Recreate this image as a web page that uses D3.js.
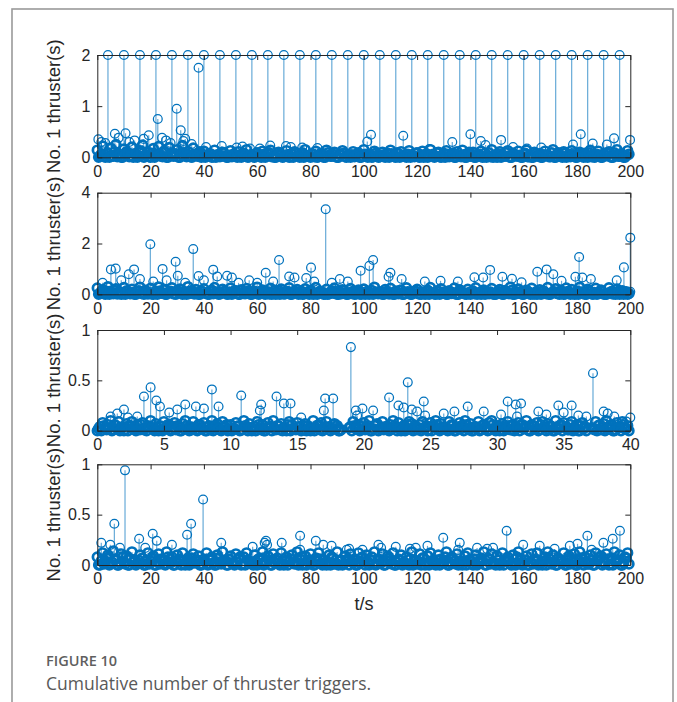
<!DOCTYPE html>
<html>
<head>
<meta charset="utf-8">
<script src="https://cdn.jsdelivr.net/npm/d3@7"></script>
<style>
  html, body { margin: 0; padding: 0; background: #fff; }
  svg { display: block; }
</style>
</head>
<body>
<svg id="chart" width="677" height="702"></svg>
<script>
// ---------------------------------------------------------------
// Tick labels
// ---------------------------------------------------------------
const xTicksLong = [0, 20, 40, 60, 80, 100, 120, 140, 160, 180, 200];
const xTicksShort = [0, 5, 10, 15, 20, 25, 30, 35, 40];
const yTicks1 = [0, 1, 2];
const yTicks2 = [0, 2, 4];
const yTicks3 = [0, 0.5, 1];
const yTicks4 = [0, 0.5, 1];

// ---------------------------------------------------------------
// Low-level trigger durations (hundredths of a second).
// "a" arrays are sampled on whole steps, "b" arrays half a step later.
// ---------------------------------------------------------------
const band1a = [
  14,3,22,0,9,18,2,25,6,0,16,11,1,20,7,0,13,24,4,10,
  0,17,5,21,2,12,0,19,8,3,15,0,23,6,11,1,18,4,9,0,
  12,2,7,0,14,5,1,10,3,0,13,6,2,11,0,8,15,1,4,0,
  9,3,12,0,6,14,2,0,10,5,1,13,0,7,11,3,0,9,15,2,
  0,6,12,1,8,0,14,4,2,10,0,7,13,1,5,0,11,3,9,0,
  15,2,6,0,12,4,1,10,0,8,14,3,0,7,11,2,0,13,5,1,
  9,0,12,4,0,15,6,2,10,0,8,13,1,5,0,11,3,14,0,7,
  2,10,0,6,12,1,0,9,15,3,0,11,5,2,13,0,8,4,12,0,
  6,14,1,0,10,3,7,0,12,5,1,15,0,9,2,11,0,6,13,4,
  0,10,2,8,0,14,5,1,12,0,7,3,11,0,9,15,2,6,0,13
];
const band1b = [
  0,5,2,8,0,3,11,1,6,0,4,9,2,0,7,3,12,0,5,1,
  8,0,3,6,1,10,0,4,2,7,0,5,9,1,3,0,6,2,11,4,
  0,3,7,1,0,5,2,9,0,4,1,6,0,3,8,2,0,5,1,7,
  3,0,6,2,9,1,0,4,7,0,2,5,1,0,8,3,6,0,2,4,
  7,1,0,5,3,0,9,2,6,1,0,4,8,0,3,5,1,7,0,2,
  6,0,4,1,8,0,3,5,2,0,7,1,9,0,4,2,6,0,3,8,
  1,5,0,7,2,4,0,9,1,3,0,6,2,8,0,4,1,5,0,10,
  3,0,6,2,0,8,4,1,0,5,7,0,3,9,1,0,6,2,4,0,
  8,1,3,0,7,2,0,5,4,1,9,0,6,2,0,8,3,1,5,0,
  4,7,0,2,9,1,0,6,3,0,5,8,1,0,4,2,7,0,3,6
];
const band2a = [
  25,5,18,0,30,12,2,22,8,0,27,14,3,20,0,10,28,6,16,1,
  24,0,12,29,4,18,0,9,26,2,15,21,0,7,30,11,3,19,0,13,
  22,4,0,16,27,8,1,20,11,0,25,6,14,0,18,3,23,9,0,12,
  28,2,17,0,10,24,5,0,15,21,1,8,26,0,13,19,3,0,22,7,
  16,0,27,5,11,0,20,2,14,25,0,9,18,4,0,23,12,1,17,0,
  21,6,0,15,28,3,10,0,19,7,24,0,13,2,17,0,26,8,0,12,
  20,1,9,0,16,27,4,0,11,22,6,0,14,3,25,0,18,9,1,20,
  0,13,26,5,0,17,10,2,23,0,8,19,0,15,4,28,0,11,21,3,
  0,16,7,24,1,0,18,12,5,27,0,9,22,2,15,0,25,6,19,0,
  13,28,3,0,20,10,0,24,6,17,1,0,26,11,4,21,0,14,8,0
];
const band2b = [
  0,8,3,12,0,5,15,1,9,4,0,11,2,7,0,14,3,0,10,6,
  1,9,0,13,4,0,7,12,2,0,8,5,11,0,3,15,1,6,0,10,
  4,0,13,2,8,0,5,11,1,9,0,14,3,0,7,2,12,0,6,4,
  0,10,3,8,1,0,15,5,0,9,2,11,0,4,7,0,13,1,6,0,
  9,3,0,12,5,1,0,8,4,11,0,2,14,0,6,3,0,10,1,7,
  0,13,4,0,9,2,6,0,11,1,5,0,8,15,0,3,10,0,4,12,
  2,0,7,11,0,5,1,14,0,8,3,0,9,6,1,0,12,4,0,7,
  10,2,0,6,13,0,4,9,1,0,11,5,0,8,2,15,0,3,7,0,
  5,12,0,1,9,4,0,13,2,0,6,10,3,0,8,1,11,0,5,2,
  0,9,6,0,14,2,7,0,4,11,0,3,8,1,0,12,5,0,10,3
];
const band3a = [
  0,4,8,2,6,10,1,5,9,3,0,7,4,9,2,6,1,8,3,5,
  10,2,7,0,4,9,3,6,1,8,5,0,7,10,2,4,9,1,6,3,
  8,0,5,10,3,7,1,9,4,0,6,2,8,5,1,10,3,7,0,4,
  9,2,6,0,8,4,10,1,5,7,3,0,9,6,2,8,4,1,7,5,
  0,10,3,6,8,1,9,4,2,7,5,0,null,null,null,4,9,2,6,1,
  8,3,10,0,5,7,2,9,4,1,6,10,3,8,0,5,2,9,7,4,
  1,6,9,3,0,8,5,10,2,7,4,1,9,6,0,3,8,5,10,2,
  7,0,4,9,1,6,3,8,10,2,5,0,7,4,9,1,6,3,8,5,
  2,10,0,6,4,8,1,9,3,7,5,0,10,2,6,8,4,1,9,3,
  6,0,8,4,null,null,2,9,5,1,7,10,3,6,0,8,4,9,2,5
];
const band3b = [
  2,0,5,1,3,0,6,2,0,4,1,0,5,3,0,2,6,1,0,4,
  3,0,1,5,0,2,6,0,3,1,4,0,2,5,0,1,3,0,6,2,
  0,4,1,0,5,2,0,3,6,1,0,2,4,0,1,5,0,3,2,0,
  6,1,0,3,4,0,2,5,1,0,3,6,0,2,1,4,0,5,0,3,
  2,0,5,1,0,4,3,0,6,2,0,1,null,null,3,0,5,2,0,4,
  1,5,0,2,6,0,3,1,4,0,2,5,0,3,1,0,6,2,0,4,
  3,0,2,5,1,0,4,6,0,2,3,0,1,5,0,4,2,0,6,1,
  0,4,3,0,5,2,0,1,6,0,3,4,0,2,5,1,0,3,0,6,
  4,1,0,5,2,0,6,3,0,1,4,0,2,5,0,3,1,6,0,2,
  0,5,2,0,null,3,1,0,6,4,0,2,5,0,1,3,0,6,2,0
];
const band4a = [
  8,0,12,4,10,1,14,6,0,11,3,9,0,13,5,2,10,7,0,12,
  4,9,0,11,6,1,13,3,8,0,10,5,12,0,7,2,11,4,9,0,
  6,12,1,8,0,10,3,13,5,0,9,2,11,6,0,8,12,4,1,10,
  0,7,13,3,9,0,11,5,2,12,0,8,4,10,1,13,6,0,9,3,
  11,0,7,12,2,5,0,10,8,1,13,4,0,9,6,11,2,0,12,7,
  3,10,0,8,13,1,5,11,0,9,4,12,0,6,10,2,8,0,13,5,
  1,11,7,0,9,12,3,0,10,6,2,13,0,8,4,11,1,0,9,12,
  5,0,10,3,7,13,0,6,11,2,9,0,12,4,8,1,10,0,13,6,
  2,9,0,11,5,12,1,0,8,13,3,10,0,7,4,12,0,9,6,11,
  0,13,3,8,1,10,0,12,5,9,2,11,0,7,13,4,10,0,8,12
];
const band4b = [
  0,4,1,7,0,3,5,0,2,8,1,0,6,3,0,5,2,0,4,1,
  7,0,3,1,5,0,8,2,0,4,6,0,1,3,0,7,2,5,0,1,
  3,0,5,2,0,7,1,4,0,6,2,0,3,8,1,0,5,2,0,4,
  6,1,0,3,5,0,2,7,0,1,4,0,6,2,3,0,8,1,0,5,
  2,0,4,6,0,1,3,0,7,2,0,5,1,4,0,3,6,0,2,8,
  0,3,5,1,0,6,2,0,4,7,1,0,3,5,0,2,1,6,0,4,
  3,0,7,2,0,4,1,5,0,3,8,0,2,6,1,0,4,3,0,5,
  1,6,0,2,4,0,7,1,3,0,5,2,0,6,4,0,1,8,2,0,
  5,0,3,1,6,0,2,4,0,7,1,3,0,5,2,0,6,1,4,0,
  2,7,0,3,1,5,0,4,8,0,2,6,1,0,3,5,0,2,7,1
];

// ---------------------------------------------------------------
// Larger trigger events: [time (s), duration (s)]
// ---------------------------------------------------------------
const peaks1Saturated = [
  [4,2],[10,2],[16,2],[22,2],[28,2],[34,2],[40,2],[46,2],[52,2],[58,2],[64,2],
  [70,2],[76,2],[82,2],[88,2],[94,2],[100,2],[106,2],[112,2],[118,2],[124,2],
  [130,2],[136,2],[142,2],[148,2],[154,2],[160,2],[166,2],[172,2],[178,2],
  [184,2],[190,2],[196,2]
];
const peaks1 = [
  [38,1.75],[29.8,0.95],[22.7,0.75],[31.3,0.53],[0.4,0.35],[6.6,0.46],[10.6,0.47],
  [19.3,0.43],[17.4,0.36],[24.3,0.38],[25.8,0.33],[32.3,0.32],[35.4,0.26],[1.5,0.3],
  [3,0.28],[8,0.38],[12,0.3],[14,0.33],[27.5,0.28],[33,0.36],[40.8,0.2],[46.7,0.22],
  [52.3,0.19],[54.5,0.21],[57.3,0.17],[61,0.17],[64.9,0.23],[70.8,0.22],[72.6,0.2],
  [76.9,0.19],[82.6,0.18],[86,0.14],[102.7,0.44],[101.3,0.31],[114.8,0.42],
  [124.6,0.16],[133.2,0.3],[140,0.45],[143.9,0.32],[145.7,0.24],[151.5,0.34],
  [156,0.2],[161.2,0.17],[166.6,0.19],[178.5,0.25],[181.4,0.45],[185.9,0.27],
  [191.2,0.25],[193.9,0.37],[199.9,0.34]
];
const peaks2 = [
  [85.7,3.35],[19.9,1.97],[36,1.78],[29.4,1.28],[68.2,1.35],[80.2,1.05],[5.1,0.98],
  [6.9,1.01],[13.8,0.98],[24.5,1.0],[11.8,0.79],[30.2,0.73],[38,0.72],[43.5,0.97],
  [45,0.7],[48.7,0.73],[50.5,0.66],[63.2,0.85],[72,0.7],[74,0.66],[78.4,0.64],
  [81.4,0.5],[91,0.6],[98.8,0.93],[103.5,1.35],[102.1,1.12],[110,0.85],[109.3,0.69],
  [114.2,0.6],[122.9,0.5],[128.8,0.53],[135.3,0.5],[141.5,0.67],[144.8,0.66],
  [147.4,0.96],[152,0.69],[155.6,0.61],[159.2,0.47],[165.1,0.89],[168.6,0.98],
  [171.1,0.79],[174.2,0.53],[180.8,1.47],[179.4,0.69],[182,0.66],[185.2,0.6],
  [194.9,0.55],[197.6,1.06],[200,2.23],[200,0.1],[2,0.45],[9,0.55],[16,0.6],
  [21,0.5],[26,0.55],[33,0.45],[40,0.55],[53,0.45],[57,0.55],[60,0.45],[66,0.5],
  [88,0.45],[94,0.5]
];
const peaks3 = [
  [19.03,0.83],[4.0,0.43],[3.5,0.34],[4.43,0.30],[4.7,0.24],[8.6,0.41],[9.1,0.24],
  [8.0,0.22],[7.4,0.24],[6.6,0.26],[6.0,0.21],[5.4,0.18],[10.8,0.35],[12.2,0.2],
  [12.3,0.26],[13.45,0.34],[14.0,0.27],[14.5,0.27],[15.3,0.13],[17.0,0.2],[17.1,0.32],
  [17.7,0.32],[3.0,0.14],[2.0,0.21],[1.5,0.17],[1.0,0.14],[2.3,0.13],[19.4,0.2],
  [19.9,0.22],[19.5,0.15],[20.7,0.2],[21.9,0.33],[22.6,0.25],[23,0.23],[23.3,0.48],
  [23.6,0.21],[24,0.19],[24.5,0.29],[24.6,0.15],[26.0,0.17],[26.8,0.19],[27.8,0.24],
  [29.0,0.19],[30.3,0.16],[30.8,0.29],[31.4,0.26],[31.8,0.27],[31.5,0.14],[33.1,0.19],
  [33.7,0.16],[34.6,0.25],[35,0.18],[35.6,0.25],[36.1,0.15],[36.7,0.14],[37.2,0.57],
  [38.0,0.19],[38.3,0.17],[38.8,0.14],[40,0.13],[39.7,0.09]
];
const peaks4 = [
  [10.4,0.94],[39.7,0.65],[6.4,0.41],[35.2,0.41],[33.7,0.3],[20.8,0.31],[22.3,0.24],
  [15.7,0.26],[1.5,0.22],[4.9,0.2],[28.0,0.2],[46.5,0.22],[63.3,0.24],[63.7,0.2],
  [62.8,0.22],[58.3,0.18],[69.2,0.22],[76.1,0.29],[76.1,0.15],[82,0.24],[84.8,0.2],
  [87.9,0.19],[93.6,0.15],[8.5,0.17],[18,0.17],[105.5,0.2],[106.5,0.17],[112,0.18],
  [117.3,0.16],[119.5,0.17],[123.9,0.19],[129.8,0.27],[136,0.22],[135.4,0.15],
  [142.5,0.17],[146.3,0.16],[148.5,0.17],[153.6,0.34],[159.8,0.2],[166,0.19],
  [171.6,0.16],[177.3,0.19],[180.2,0.21],[183.9,0.29],[189.9,0.22],[193.4,0.26],
  [196.1,0.34],[185.5,0.15],[99.5,0.15],[94.5,0.16]
];

// ---------------------------------------------------------------
// Page layout
// ---------------------------------------------------------------
const plotLeft = 97.3, plotRight = 630.3;
const blue = "#0072bd";
const axisColor = "#262626";
const tickFont = "'Liberation Sans', Arial, Helvetica, sans-serif";

const svg = d3.select("#chart");

// card frame
svg.append("rect")
  .attr("x", 12).attr("y", 9)
  .attr("width", 661).attr("height", 730)
  .attr("fill", "none")
  .attr("stroke", "#9a9a9a")
  .attr("stroke-width", 1.6);

// turn the banded samples (hundredths, fixed step) plus events into {t, v, dense}
function samples(bandA, bandB, step, events) {
  const out = [];
  bandA.forEach((h, i) => { if (h !== null) out.push({ t: i * step, v: h / 100, dense: true }); });
  bandB.forEach((h, i) => { if (h !== null) out.push({ t: (i + 0.5) * step, v: h / 100, dense: true }); });
  events.forEach(([t, v]) => out.push({ t, v, dense: false }));
  return out;
}

const panels = [
  { top: 55,    bottom: 157.3, xMax: 200, yMax: 2, xTicks: xTicksLong,  yTicks: yTicks1,
    data: samples(band1a, band1b, 1, peaks1.concat(peaks1Saturated)) },
  { top: 192.7, bottom: 294.3, xMax: 200, yMax: 4, xTicks: xTicksLong,  yTicks: yTicks2,
    data: samples(band2a, band2b, 1, peaks2) },
  { top: 330,   bottom: 430.7, xMax: 40,  yMax: 1, xTicks: xTicksShort, yTicks: yTicks3,
    data: samples(band3a, band3b, 0.2, peaks3) },
  { top: 464.3, bottom: 565,   xMax: 200, yMax: 1, xTicks: xTicksLong,  yTicks: yTicks4,
    data: samples(band4a, band4b, 1, peaks4) }
];

function styleAxis(g, showLabels) {
  g.select(".domain").attr("stroke", axisColor).attr("stroke-width", 1);
  g.selectAll(".tick line").attr("stroke", axisColor).attr("stroke-width", 1);
  g.selectAll(".tick text")
    .attr("fill", axisColor)
    .style("font-family", tickFont)
    .style("font-size", "16px");
  if (!showLabels) g.selectAll(".tick text").remove();
}

panels.forEach(p => {
  const x = d3.scaleLinear().domain([0, p.xMax]).range([plotLeft, plotRight]);
  const y = d3.scaleLinear().domain([0, p.yMax]).range([p.bottom, p.top]);
  const g = svg.append("g");

  // stems
  g.append("g").selectAll("line").data(p.data).join("line")
    .attr("x1", d => x(d.t)).attr("x2", d => x(d.t))
    .attr("y1", y(0)).attr("y2", d => y(d.v))
    .attr("stroke", blue)
    .attr("stroke-opacity", 0.6)
    .attr("stroke-width", 1.2);

  // markers: the crowded low-level samples overlap into a near-solid band
  g.append("g").selectAll("circle").data(p.data).join("circle")
    .attr("cx", d => x(d.t)).attr("cy", d => y(d.v))
    .attr("r", 4.4)
    .attr("fill", "none")
    .attr("stroke", blue)
    .attr("stroke-width", d => d.dense ? 2.7 : 1.25);

  const fmt = d => String(d);

  // boxed axes with inward ticks
  const bottomAxis = g.append("g")
    .attr("transform", `translate(0,${p.bottom})`)
    .call(d3.axisBottom(x).tickValues(p.xTicks).tickFormat(fmt)
      .tickSizeInner(-5).tickSizeOuter(0).tickPadding(8));
  styleAxis(bottomAxis, true);

  const topAxis = g.append("g")
    .attr("transform", `translate(0,${p.top})`)
    .call(d3.axisTop(x).tickValues(p.xTicks).tickSizeInner(-5).tickSizeOuter(0));
  styleAxis(topAxis, false);

  const leftAxis = g.append("g")
    .attr("transform", `translate(${plotLeft},0)`)
    .call(d3.axisLeft(y).tickValues(p.yTicks).tickFormat(fmt)
      .tickSizeInner(-5).tickSizeOuter(0).tickPadding(7));
  styleAxis(leftAxis, true);

  const rightAxis = g.append("g")
    .attr("transform", `translate(${plotRight},0)`)
    .call(d3.axisRight(y).tickValues(p.yTicks).tickSizeInner(-5).tickSizeOuter(0));
  styleAxis(rightAxis, false);

  // y-axis title
  g.append("text")
    .attr("transform", `translate(60,${(p.top + p.bottom) / 2}) rotate(-90)`)
    .attr("text-anchor", "middle")
    .attr("fill", axisColor)
    .style("font-family", tickFont)
    .style("font-size", "18.5px")
    .text("No. 1 thruster(s)");
});

// x-axis title
svg.append("text")
  .attr("x", 364).attr("y", 610)
  .attr("text-anchor", "middle")
  .attr("fill", axisColor)
  .style("font-family", tickFont)
  .style("font-size", "18px")
  .text("t/s");

// caption
svg.append("text")
  .attr("x", 46).attr("y", 666)
  .attr("fill", "#5f5f5f")
  .style("font-family", "'Open Sans', sans-serif")
  .style("font-weight", 600)
  .style("font-size", "14.5px")
  .text("FIGURE 10");

svg.append("text")
  .attr("x", 46).attr("y", 690)
  .attr("fill", "#595959")
  .style("font-family", "'Open Sans', sans-serif")
  .style("font-size", "17.5px")
  .text("Cumulative number of thruster triggers.");
</script>
</body>
</html>
